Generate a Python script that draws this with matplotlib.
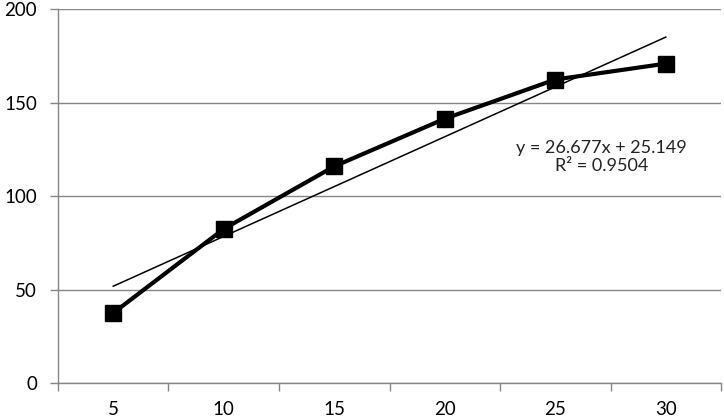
import numpy as np
import matplotlib.pyplot as plt
from matplotlib.ticker import FixedLocator

plt.rcParams['font.family'] = ['Lato', 'DejaVu Sans']

# data
categories = ['5', '10', '15', '20', '25', '30']
values = [37.5, 82.5, 116, 141.5, 162.5, 171]
trend_slope = 26.677
trend_intercept = 25.149
r_squared = 0.9504
y_ticks = [0, 50, 100, 150, 200]

grey = '#868686'

fig = plt.figure(figsize=(7.24, 4.18), dpi=100)
ax = fig.add_axes([0.0801, 0.0837, 0.9158, 0.8936])

idx = np.arange(1, len(categories) + 1)

# linear trendline (excel style, x = category index)
trend = trend_slope * idx + trend_intercept
ax.plot(idx, trend, color='black', linewidth=1.1, zorder=3)

ax.plot(idx, values, color='black', linewidth=3, marker='s',
        markersize=12, markerfacecolor='black', markeredgecolor='black', zorder=4)

ax.text(5.42, 121, f'y = {trend_slope}x + {trend_intercept}\nR² = {r_squared}',
        ha='center', va='center', fontsize=13, color='#222222', linespacing=1.1)

ax.set_xlim(0.5, len(categories) + 0.5)
ax.set_ylim(0, 200)

ax.set_xticks(idx)
ax.set_xticklabels(categories)
ax.xaxis.set_minor_locator(FixedLocator(np.arange(0.5, len(categories) + 1, 1)))
ax.tick_params(axis='x', which='major', length=0, pad=13, labelsize=13.5)
ax.tick_params(axis='x', which='minor', length=6, color=grey, width=1)

ax.set_yticks(y_ticks)
ax.tick_params(axis='y', length=6, color=grey, width=1, pad=9, labelsize=13.5)

ax.grid(axis='y', color=grey, linewidth=1)
ax.set_axisbelow(True)

for s in ['top', 'right']:
    ax.spines[s].set_visible(False)
for s in ['left', 'bottom']:
    ax.spines[s].set_color(grey)
    ax.spines[s].set_linewidth(1)

fig.savefig('out.png', dpi=100)
